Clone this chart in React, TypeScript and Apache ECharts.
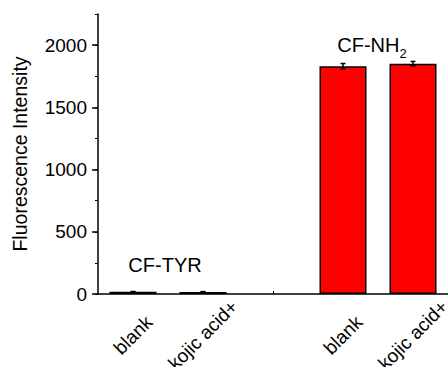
import React, { useEffect, useRef } from "react";
import * as echarts from "echarts";

// Five slots on the x axis: two CF-TYR samples, an empty spacer, two CF-NH2 samples
const categories = ["tyr-blank", "tyr-kojic", "gap", "nh2-blank", "nh2-kojic"];
const tickLabels = ["blank", "kojic acid+", "", "blank", "kojic acid+"];
const intensity: (number | null)[] = [18, 17, null, 1830, 1851];
const errors: (number | null)[] = [2, 2, null, 22, 18];
const groupLabels = ["CF-TYR", "CF-NH"];

const yMajor = [0, 500, 1000, 1500, 2000];

const FONT = "Liberation Sans, Arial, Helvetica, sans-serif";

export default function App() {
  const ref = useRef<HTMLDivElement>(null);

  useEffect(() => {
    if (!ref.current) return;
    const chart = echarts.init(ref.current, undefined, { renderer: "svg" });

    const errData = intensity
      .map((v, i) => (v == null ? null : [i, v, errors[i] as number]))
      .filter((d) => d !== null) as number[][];

    chart.setOption({
      animation: false,
      grid: {
        left: 98,
        right: 0,
        top: 14,
        bottom: 73,
        containLabel: false,
        outerBoundsMode: "none",
      },
      xAxis: {
        type: "category",
        data: categories,
        boundaryGap: true,
        axisLine: { lineStyle: { color: "#000", width: 1.5 } },
        axisTick: {
          show: true,
          alignWithLabel: true,
          inside: true,
          length: 3,
          lineStyle: { color: "#000", width: 1 },
        },
        axisLabel: {
          interval: 0,
          rotate: 45,
          align: "center",
          verticalAlign: "middle",
          margin: 41,
          fontFamily: FONT,
          fontSize: 19,
          color: "#000",
          formatter: (_v: string, idx: number) => tickLabels[idx],
        },
        splitLine: { show: false },
      },
      yAxis: [
        {
          type: "value",
          min: 0,
          max: 2250,
          interval: 250,
          name: "Fluorescence Intensity",
          nameLocation: "middle",
          nameRotate: 90,
          nameGap: 68,
          nameTextStyle: { fontFamily: FONT, fontSize: 19.5, color: "#000" },
          axisLine: { show: true, lineStyle: { color: "#000", width: 1.5 } },
          axisTick: { show: true, length: 3, lineStyle: { color: "#000", width: 1 } },
          axisLabel: {
            margin: 11,
            fontFamily: FONT,
            fontSize: 19,
            color: "#000",
            formatter: (v: number) => (yMajor.includes(v) ? String(v) : ""),
          },
          splitLine: { show: false },
        },
        {
          type: "value",
          min: 0,
          max: 2250,
          interval: 500,
          position: "left",
          axisLine: { show: false },
          axisTick: {
            show: true,
            length: 6,
            customValues: yMajor,
            lineStyle: { color: "#000", width: 1.5 },
          },
          axisLabel: { show: false },
          splitLine: { show: false },
        },
      ],
      series: [
        {
          type: "bar",
          data: intensity,
          barWidth: 47,
          itemStyle: { color: "#ff0000", borderColor: "#000", borderWidth: 1.5 },
        },
        {
          type: "custom",
          data: errData,
          z: 10,
          renderItem: (_params: any, api: any) => {
            const x = api.value(0);
            const v = api.value(1);
            const e = api.value(2);
            const top = api.coord([x, v + e]);
            const bot = api.coord([x, v - e]);
            const cap = 2.5;
            const style = { stroke: "#000", lineWidth: 1.5 };
            return {
              type: "group",
              children: [
                { type: "line", shape: { x1: top[0], y1: top[1], x2: bot[0], y2: bot[1] }, style },
                { type: "line", shape: { x1: top[0] - cap, y1: top[1], x2: top[0] + cap, y2: top[1] }, style },
                { type: "line", shape: { x1: bot[0] - cap, y1: bot[1], x2: bot[0] + cap, y2: bot[1] }, style },
              ],
            };
          },
        },
      ],
      graphic: [
        {
          type: "text",
          x: 165,
          y: 265,
          style: {
            text: groupLabels[0],
            font: `20px ${FONT}`,
            fill: "#000",
            align: "center",
            verticalAlign: "middle",
          },
        },
        {
          type: "text",
          x: 372,
          y: 45,
          style: {
            text: `{m|${groupLabels[1]}}{s|2}`,
            align: "center",
            verticalAlign: "middle",
            rich: {
              m: { fontFamily: FONT, fontSize: 20, fill: "#000" },
              s: { fontFamily: FONT, fontSize: 13, fill: "#000", padding: [16, 0, 0, 0] },
            },
          },
        },
      ],
    });

    return () => chart.dispose();
  }, []);

  return (
    <div
      ref={ref}
      style={{ position: "absolute", left: 0, top: 0, width: 448, height: 367 }}
    />
  );
}
